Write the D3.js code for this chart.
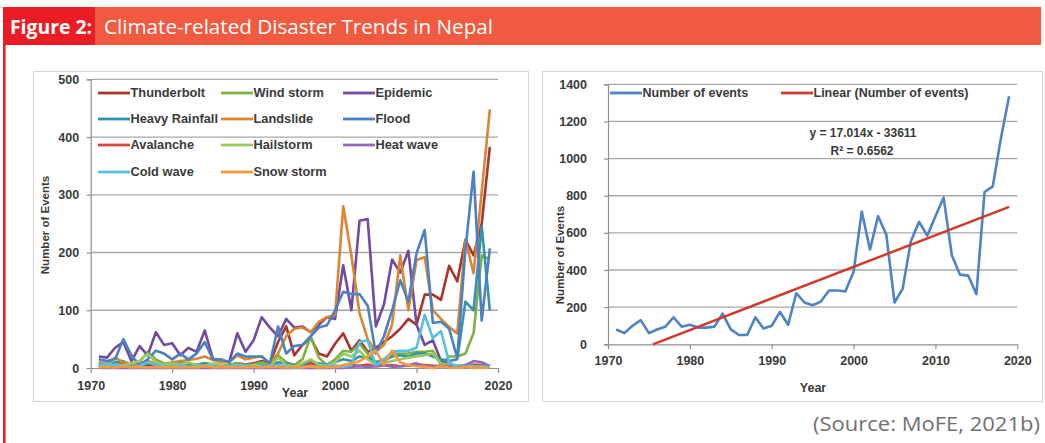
<!DOCTYPE html>
<html><head><meta charset="utf-8">
<script src="https://cdn.jsdelivr.net/npm/d3@7"></script>
<style>body{margin:0;background:#fff;} svg{display:block}</style>
</head><body><svg id="c" width="1045" height="443"></svg>
<script>
// ---------- DATA ----------
const years = d3.range(1971, 2020);
const xTicks = [1970, 1980, 1990, 2000, 2010, 2020];
const leftYTicks = [0, 100, 200, 300, 400, 500];
const rightYTicks = [0, 200, 400, 600, 800, 1000, 1200, 1400];

const seriesNames = ["Thunderbolt","Wind storm","Epidemic","Heavy Rainfall","Landslide","Flood","Avalanche","Hailstorm","Heat wave","Cold wave","Snow storm"];
const seriesColors = ["#A9342E","#7DB142","#7449A0","#3393AE","#DB8530","#4A80C4","#D9463F","#9ACB58","#9466BC","#55C1DE","#F6993F"];

const thunderbolt = [5,4,6,8,5,4,6,5,4,6, 5,6,5,8,6,4,5,8,6,8, 12,8,45,72,22,40,52,25,20,42, 60,30,48,28,35,45,55,68,85,75, 127,127,118,177,150,222,195,250,383];
const windStorm   = [3,5,8,5,3,10,28,15,8,5, 10,8,5,8,5,3,5,8,5,6, 10,5,22,10,5,15,55,18,5,15, 30,28,42,25,10,15,25,25,25,28, 28,30,5,20,20,25,60,195,188];
const epidemic    = [20,18,35,45,12,38,22,62,40,43, 22,35,28,65,16,13,10,60,28,48, 88,70,55,85,70,72,62,75,88,85, 178,100,255,258,72,110,188,165,203,75, 40,48,12,6,3,2,2,1,1];
const heavyRain   = [8,5,10,12,5,3,8,6,4,5, 10,6,5,8,4,3,4,6,5,4, 5,3,10,8,5,6,10,8,6,10, 15,12,20,18,10,12,20,22,20,25, 25,20,15,12,15,115,100,245,100];
const landslide   = [10,8,18,10,6,8,12,8,6,10, 12,14,16,20,14,10,10,22,15,18, 20,8,25,55,68,70,62,80,88,92, 280,195,95,50,28,40,75,195,100,187, 192,100,85,71,60,222,164,305,448];
const flood       = [15,12,15,50,22,5,15,30,25,15, 25,15,25,45,15,15,10,25,20,20, 20,8,72,25,38,40,55,70,74,100, 132,128,128,108,25,55,100,152,115,199, 239,78,80,68,17,205,340,82,207];
const avalanche   = [2,3,1,2,4,2,1,3,2,1, 2,1,3,2,1,2,1,2,3,1, 2,1,3,2,4,2,8,3,2,4, 3,5,4,6,3,4,5,3,4,6, 5,4,3,5,4,3,6,5,4];
const hailstorm   = [5,3,6,4,8,12,25,10,5,8, 6,10,5,4,8,5,3,6,4,5, 4,3,18,5,3,8,15,6,4,10, 25,20,30,15,5,8,12,15,18,20, 22,25,8,5,3,5,3,2,2];
const heatWave    = [0,0,0,0,0,0,0,0,0,0, 0,0,0,0,0,0,0,0,0,0, 0,0,0,0,0,0,0,0,0,0, 0,2,3,2,3,5,2,3,5,8, 3,2,4,3,2,5,12,10,3];
const coldWave    = [5,8,5,3,2,4,10,6,3,2, 5,3,2,4,3,2,2,5,3,2, 3,2,5,3,0,2,3,2,4,3, 2,5,45,48,5,15,28,30,30,35, 92,52,64,10,2,3,2,3,2];
const snowStorm   = [1,2,1,3,1,2,1,2,1,2, 1,2,1,3,1,2,1,2,1,2, 1,2,2,1,2,1,3,1,2,1, 5,8,12,20,30,5,30,10,5,3, 2,0,3,1,0,2,0,1,0];
const leftSeries = [thunderbolt, windStorm, epidemic, heavyRain, landslide, flood, avalanche, hailstorm, heatWave, coldWave, snowStorm];

const totalEvents = [80,60,100,130,60,80,95,145,95,105, 90,90,95,165,80,50,50,145,85,100, 175,105,275,225,210,230,290,290,285,390, 715,510,690,590,225,300,555,660,585,690, 790,480,375,370,270,820,850,1110,1335];
const trendSlope = 17.014, trendIntercept = -33611;
const rightLegend = ["Number of events", "Linear (Number of events)"];
const rightColors = ["#4F84C4", "#CF3A2E"];

// ---------- DRAW ----------
const svg = d3.select("#c");
const FONT = "'Liberation Sans', Arial, sans-serif";
const TXT = "#3a3a3a";

// header
svg.append("rect").attr("x",3).attr("y",7).attr("width",1038).attr("height",38).attr("fill","#F15A40");
svg.append("rect").attr("x",3).attr("y",7).attr("width",92).attr("height",38).attr("fill","#EC1C24");
svg.append("rect").attr("x",3).attr("y",7).attr("width",2.6).attr("height",436).attr("fill","#EC1C24");
svg.append("text").attr("x",10).attr("y",33.5).attr("fill","#fff").attr("font-family","'Open Sans', sans-serif")
  .attr("font-weight","bold").attr("font-size",19).attr("textLength",82).attr("lengthAdjust","spacingAndGlyphs").text("Figure 2:");
svg.append("text").attr("x",104).attr("y",33.5).attr("fill","#fff").attr("font-family","'Open Sans', sans-serif")
  .attr("font-size",20).attr("textLength",389).attr("lengthAdjust","spacingAndGlyphs").text("Climate-related Disaster Trends in Nepal");
svg.append("text").attr("x",813).attr("y",431).attr("fill","#707070")
  .attr("font-family","'Open Sans', sans-serif").attr("font-size",20.5).attr("textLength",227).attr("lengthAdjust","spacingAndGlyphs").text("(Source: MoFE, 2021b)");

// panels
svg.append("rect").attr("x",33.5).attr("y",71.5).attr("width",495).attr("height",330).attr("fill","#fff").attr("stroke","#d6d6d6");
svg.append("rect").attr("x",542.5).attr("y",71.5).attr("width",500).attr("height",330).attr("fill","#fff").attr("stroke","#d6d6d6");

function drawAxes(g, x, y, yTicks, xPad, yPad) {
  const [x0, x1] = x.range();
  g.append("g").selectAll("line").data(yTicks.filter(d => d > 0)).join("line")
    .attr("x1", x0).attr("x2", x1).attr("y1", d => y(d)).attr("y2", d => y(d))
    .attr("stroke", "#a8a8a8").attr("stroke-width", 1.3);
  const ya = g.append("g").attr("transform", `translate(${x0},0)`)
    .call(d3.axisLeft(y).tickValues(yTicks).tickSize(4).tickPadding(yPad).tickFormat(d3.format("d")));
  const xa = g.append("g").attr("transform", `translate(0,${y(0)})`)
    .call(d3.axisBottom(x).tickValues(xTicks).tickSize(5).tickPadding(xPad).tickSizeOuter(0).tickFormat(d3.format("d")));
  [ya, xa].forEach(a => {
    a.select(".domain").attr("stroke", "#8f8f8f").attr("stroke-width", 1.2);
    a.selectAll(".tick line").attr("stroke", "#8f8f8f").attr("stroke-width", 1.2);
    a.selectAll("text").attr("font-family", FONT).attr("font-weight", "bold").attr("font-size", 12.5).attr("fill", TXT);
  });
}

// ---- left chart ----
const xL = d3.scaleLinear([1970, 2020], [90.7, 498]);
const yL = d3.scaleLinear([0, 500], [368, 79.3]);
const gL = svg.append("g");
drawAxes(gL, xL, yL, leftYTicks, 8, 7.5);
const lineL = d3.line().x((d, i) => xL(years[i])).y(d => yL(d));
gL.append("g").selectAll("path").data(leftSeries).join("path")
  .attr("d", d => lineL(d)).attr("fill", "none")
  .attr("stroke", (d, i) => seriesColors[i]).attr("stroke-width", 2.6).attr("stroke-linejoin", "round");
// legend
const legCols = [98, 221, 343], legRows = [93, 119, 145, 172];
const leg = gL.append("g").selectAll("g").data(seriesNames).join("g")
  .attr("transform", (d, i) => `translate(${legCols[i % 3]},${legRows[Math.floor(i / 3)]})`);
leg.append("line").attr("x1", 0).attr("x2", 32).attr("stroke", (d, i) => seriesColors[i]).attr("stroke-width", 2.8);
leg.append("text").attr("x", 32.5).attr("dy", "0.35em").attr("font-family", FONT).attr("font-weight", "bold")
  .attr("font-size", 12.8).attr("fill", TXT).text(d => d);
gL.append("text").attr("x", 295).attr("y", 397).attr("text-anchor", "middle").attr("font-family", FONT)
  .attr("font-weight", "bold").attr("font-size", 12.5).attr("fill", TXT).text("Year");
gL.append("text").attr("transform", "translate(49,225) rotate(-90)").attr("text-anchor", "middle").attr("font-family", FONT)
  .attr("font-weight", "bold").attr("font-size", 11.5).attr("fill", TXT).text("Number of Events");

// ---- right chart ----
const xR = d3.scaleLinear([1970, 2020], [608, 1017.3]);
const yR = d3.scaleLinear([0, 1400], [344.3, 84.3]);
const gR = svg.append("g");
drawAxes(gR, xR, yR, rightYTicks, 7, 17);
gR.append("path").datum(totalEvents).attr("fill", "none").attr("stroke", rightColors[0]).attr("stroke-width", 2.6)
  .attr("stroke-linejoin", "round").attr("d", d3.line().x((d, i) => xR(years[i])).y(d => yR(d)));
const trendStart = Math.max(years[0], -trendIntercept / trendSlope);
const trendEnd = years[years.length - 1];
gR.append("line").attr("x1", xR(trendStart)).attr("y1", yR(trendSlope * trendStart + trendIntercept))
  .attr("x2", xR(trendEnd)).attr("y2", yR(trendSlope * trendEnd + trendIntercept))
  .attr("stroke", rightColors[1]).attr("stroke-width", 2.5);
const rLegX = [610, 781];
const rl = gR.append("g").selectAll("g").data(rightLegend).join("g").attr("transform", (d, i) => `translate(${rLegX[i]},93)`);
rl.append("line").attr("x1", 0).attr("x2", 32).attr("stroke", (d, i) => rightColors[i]).attr("stroke-width", 2.8);
rl.append("text").attr("x", 32.5).attr("dy", "0.35em").attr("font-family", FONT).attr("font-weight", "bold")
  .attr("font-size", 12.5).attr("fill", TXT).text(d => d);
gR.append("text").attr("x", 863).attr("y", 137).attr("text-anchor", "middle").attr("font-family", FONT)
  .attr("font-weight", "bold").attr("font-size", 12).attr("fill", TXT).text("y = 17.014x - 33611");
gR.append("text").attr("x", 862).attr("y", 155).attr("text-anchor", "middle").attr("font-family", FONT)
  .attr("font-weight", "bold").attr("font-size", 12).attr("fill", TXT).text("R² = 0.6562");
gR.append("text").attr("x", 813).attr("y", 392).attr("text-anchor", "middle").attr("font-family", FONT)
  .attr("font-weight", "bold").attr("font-size", 12.5).attr("fill", TXT).text("Year");
gR.append("text").attr("transform", "translate(564,255) rotate(-90)").attr("text-anchor", "middle").attr("font-family", FONT)
  .attr("font-weight", "bold").attr("font-size", 11.5).attr("fill", TXT).text("Number of Events");
</script></body></html>
